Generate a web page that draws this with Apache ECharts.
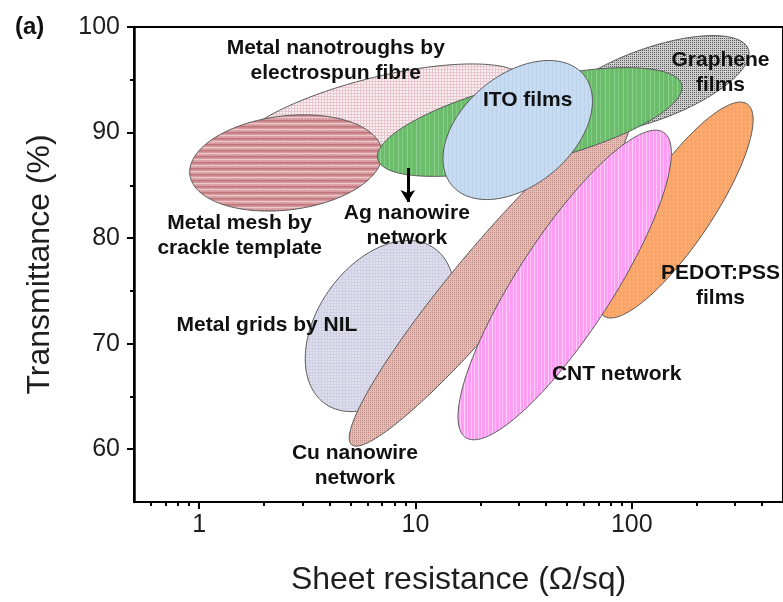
<!DOCTYPE html>
<html>
<head>
<meta charset="utf-8">
<script src="https://cdn.jsdelivr.net/npm/echarts@6/dist/echarts.min.js"></script>
<style>
  html, body { margin: 0; padding: 0; background: #fff; }
  #chart { width: 783px; height: 602px; }
</style>
</head>
<body>
<div id="chart"></div>
<script>
// Film families, listed back to front (later ones are drawn on top)
const films = ['Graphene films', 'Metal nanotroughs', 'Metal mesh', 'PEDOT:PSS films',
  'Metal grids by NIL', 'Cu nanowire network', 'CNT network', 'Ag nanowire network', 'ITO films'];

// Each family covers an elliptical region: its centre, the end of one semi-axis
// and the end of the other semi-axis, as sheet resistance (Ω/sq) / transmittance (%)
const centreR   = [120.9, 6.84, 2.52, 159.4, 6.84, 22.04, 48.95, 33.74, 29.70];
const centreT   = [94.51, 91.47, 87.12, 82.66, 71.67, 76.03, 75.56, 91.00, 90.24];
const vertexR   = [345.4, 32.2, 7.01, 341.4, 12.22, 95.87, 140.5, 170.1, 59.86];
const vertexT   = [97.91, 94.91, 88.23, 92.71, 79.04, 91.63, 90.01, 94.51, 95.48];
const coVertexR = [137.8, 7.59, 2.68, 218.9, 11.75, 28.9, 74.6, 37.40, 43.27];
const coVertexT = [91.30, 87.80, 82.70, 80.76, 68.30, 73.94, 73.05, 87.23, 86.25];

// Region captions and where they sit (Ω/sq, %)
const captions = ['Metal nanotroughs by\nelectrospun fibre', 'Graphene\nfilms', 'ITO films',
  'Metal mesh by\ncrackle template', 'Ag nanowire\nnetwork', 'Metal grids by NIL',
  'PEDOT:PSS\nfilms', 'CNT network', 'Cu nanowire\nnetwork'];
const captionR = [4.28, 257, 33.0, 1.54, 9.12, 2.06, 257, 85.1, 5.25];
const captionT = [96.8, 95.69, 93.08, 80.2, 81.15, 71.77, 75.46, 67.12, 58.41];

// Arrow from the Ag nanowire caption up to its region
const arrowR = [9.22, 9.22];
const arrowT = [86.64, 83.42];

// Axis ticks
const xMajorTicks = [1, 10, 100];
const xMinorTicks = [0.6, 0.7, 0.8, 0.9, 2, 3, 4, 5, 6, 7, 8, 9, 20, 30, 40, 50, 60, 70, 80, 90, 200, 300, 400];
const yMajorTicks = [60, 70, 80, 90, 100];
const yMinorTicks = [65, 75, 85, 95];

const FONT = '"Liberation Sans", Arial, Helvetica, sans-serif';

// Small repeating textures used as fills
function pattern(w, h, draw) {
  const c = document.createElement('canvas');
  c.width = w; c.height = h;
  const g = c.getContext('2d');
  draw(g, w, h);
  return { image: c, repeat: 'repeat' };
}
function px(g, x, y, col) { g.fillStyle = col; g.fillRect(x, y, 1, 1); }

const fills = {
  'Graphene films': pattern(2, 2, (g) => {
    g.fillStyle = '#cdcdcd'; g.fillRect(0, 0, 2, 2);
    px(g, 0, 0, '#5c5c5c');
  }),
  'Metal nanotroughs': pattern(3, 3, (g) => {
    g.fillStyle = '#faeff1'; g.fillRect(0, 0, 3, 3);
    g.fillStyle = '#e8c6cd'; g.fillRect(0, 0, 1, 3); g.fillRect(0, 0, 3, 1);
  }),
  'Metal mesh': pattern(3, 6, (g) => {
    g.fillStyle = '#d89ca0'; g.fillRect(0, 0, 3, 6);
    g.fillStyle = '#c0777c'; g.fillRect(0, 0, 3, 1);
    g.fillStyle = '#cb868b'; g.fillRect(0, 1, 3, 1);
    g.fillStyle = '#ebc6c8'; g.fillRect(0, 3, 3, 1);
    px(g, 0, 4, '#e4b6b9');
  }),
  'PEDOT:PSS films': pattern(4, 4, (g) => {
    g.fillStyle = '#f9a468'; g.fillRect(0, 0, 4, 4);
    px(g, 1, 1, '#fbbb8c'); px(g, 1, 2, '#fbbb8c');
  }),
  'Metal grids by NIL': pattern(3, 3, (g) => {
    g.fillStyle = '#dedeed'; g.fillRect(0, 0, 3, 3);
    g.fillStyle = '#d0d0e4'; g.fillRect(0, 0, 3, 1); g.fillRect(0, 0, 1, 3);
  }),
  'Cu nanowire network': pattern(2, 2, (g) => {
    g.fillStyle = '#e4bcb6'; g.fillRect(0, 0, 2, 2);
    px(g, 0, 0, '#c38c85');
  }),
  'CNT network': pattern(7, 1, (g) => {
    g.fillStyle = '#ff9cf4'; g.fillRect(0, 0, 7, 1);
    px(g, 2, 0, '#ffd0fb'); px(g, 5, 0, '#ffc2f9');
  }),
  'Ag nanowire network': pattern(9, 1, (g) => {
    g.fillStyle = '#6bbd6b'; g.fillRect(0, 0, 9, 1);
    px(g, 2, 0, '#8dcf8d'); px(g, 6, 0, '#82c982');
  }),
  'ITO films': pattern(4, 1, (g) => {
    g.fillStyle = '#c7dbf1'; g.fillRect(0, 0, 4, 1);
    px(g, 0, 0, '#bcd1ea');
  })
};

const regionData = films.map((name, i) => ({
  name: name,
  value: [centreR[i], centreT[i], vertexR[i], vertexT[i], coVertexR[i], coVertexT[i]]
}));

const captionData = captions.map((text, i) => ({ name: text, value: [captionR[i], captionT[i]] }));

function renderRegion(params, api) {
  const c = api.coord([api.value(0), api.value(1)]);
  const v = api.coord([api.value(2), api.value(3)]);
  const w = api.coord([api.value(4), api.value(5)]);
  const ax = [v[0] - c[0], v[1] - c[1]];
  const bx = [w[0] - c[0], w[1] - c[1]];
  const pts = [];
  const n = 200;
  for (let k = 0; k < n; k++) {
    const t = (k / n) * Math.PI * 2;
    const ct = Math.cos(t), st = Math.sin(t);
    pts.push([c[0] + ax[0] * ct + bx[0] * st, c[1] + ax[1] * ct + bx[1] * st]);
  }
  return {
    type: 'polygon',
    shape: { points: pts },
    style: { fill: fills[films[params.dataIndex]], stroke: '#5a5a5a', lineWidth: 1 }
  };
}

const chart = echarts.init(document.getElementById('chart'), null, { renderer: 'canvas' });

const xBase = {
  type: 'log', logBase: 10, min: 0.5, max: 500, gridIndex: 0,
  splitLine: { show: false }, minorTick: { show: false }
};
const yBase = { type: 'value', min: 55, max: 100, gridIndex: 0, splitLine: { show: false } };

chart.setOption({
  animation: false,
  backgroundColor: '#fff',
  textStyle: { fontFamily: FONT },
  grid: {
    left: 134, top: 27, width: 649, height: 475,
    show: true, borderColor: '#000', borderWidth: 2, backgroundColor: 'transparent'
  },
  graphic: [{
    type: 'text', left: 15, top: 15,
    style: { text: '(a)', font: 'bold 24px ' + FONT, fill: '#111' }
  }],
  xAxis: [
    Object.assign({}, xBase, {
      position: 'bottom',
      axisLine: { show: true, lineStyle: { color: '#000', width: 2 } },
      axisTick: { show: true, customValues: xMajorTicks, length: 7, lineStyle: { color: '#000', width: 2 } },
      axisLabel: { show: true, customValues: xMajorTicks, fontSize: 25, color: '#1e1e1e', margin: 11,
        fontFamily: FONT, formatter: (v) => String(Math.round(v)) },
      name: 'Sheet resistance (\u03A9/sq)', nameLocation: 'middle', nameGap: 62,
      nameTextStyle: { fontSize: 32, color: '#1e1e1e', fontFamily: FONT }
    }),
    Object.assign({}, xBase, {
      position: 'bottom',
      axisLine: { show: false },
      axisTick: { show: true, customValues: xMinorTicks, length: 4, lineStyle: { color: '#000', width: 2 } },
      axisLabel: { show: false }
    })
  ],
  yAxis: [
    Object.assign({}, yBase, {
      position: 'left',
      axisLine: { show: true, lineStyle: { color: '#000', width: 2.5 } },
      axisTick: { show: true, customValues: yMajorTicks, length: 7, lineStyle: { color: '#000', width: 2 } },
      axisLabel: { show: true, customValues: yMajorTicks, fontSize: 25, color: '#1e1e1e', margin: 14, fontFamily: FONT },
      name: 'Transmittance (%)', nameLocation: 'middle', nameGap: 78, nameRotate: 90,
      nameTextStyle: { fontSize: 32, color: '#1e1e1e', fontFamily: FONT }
    }),
    Object.assign({}, yBase, {
      position: 'left',
      axisLine: { show: false },
      axisTick: { show: true, customValues: yMinorTicks, length: 4, lineStyle: { color: '#000', width: 2 } },
      axisLabel: { show: false }
    })
  ],
  series: [
    {
      type: 'custom',
      name: 'regions',
      xAxisIndex: 0, yAxisIndex: 0,
      renderItem: renderRegion,
      encode: { x: [0, 2, 4], y: [1, 3, 5] },
      data: regionData,
      clip: true,
      z: 2
    },
    {
      type: 'scatter',
      name: 'captions',
      xAxisIndex: 0, yAxisIndex: 0,
      symbolSize: 0,
      itemStyle: { opacity: 1 },
      data: captionData,
      z: 5,
      label: {
        show: true, position: 'inside', formatter: (p) => p.name,
        fontFamily: FONT, fontWeight: 'bold', fontSize: 21, lineHeight: 25, color: '#111',
        align: 'center', opacity: 1, textBorderWidth: 0
      },
      markLine: {
        silent: true,
        symbol: ['none', 'arrow'],
        symbolSize: [11, 12],
        label: { show: false },
        lineStyle: { color: '#000', width: 3, type: 'solid' },
        data: [[{ coord: [arrowR[0], arrowT[0]] }, { coord: [arrowR[1], arrowT[1]] }]]
      }
    }
  ]
});
</script>
</body>
</html>
